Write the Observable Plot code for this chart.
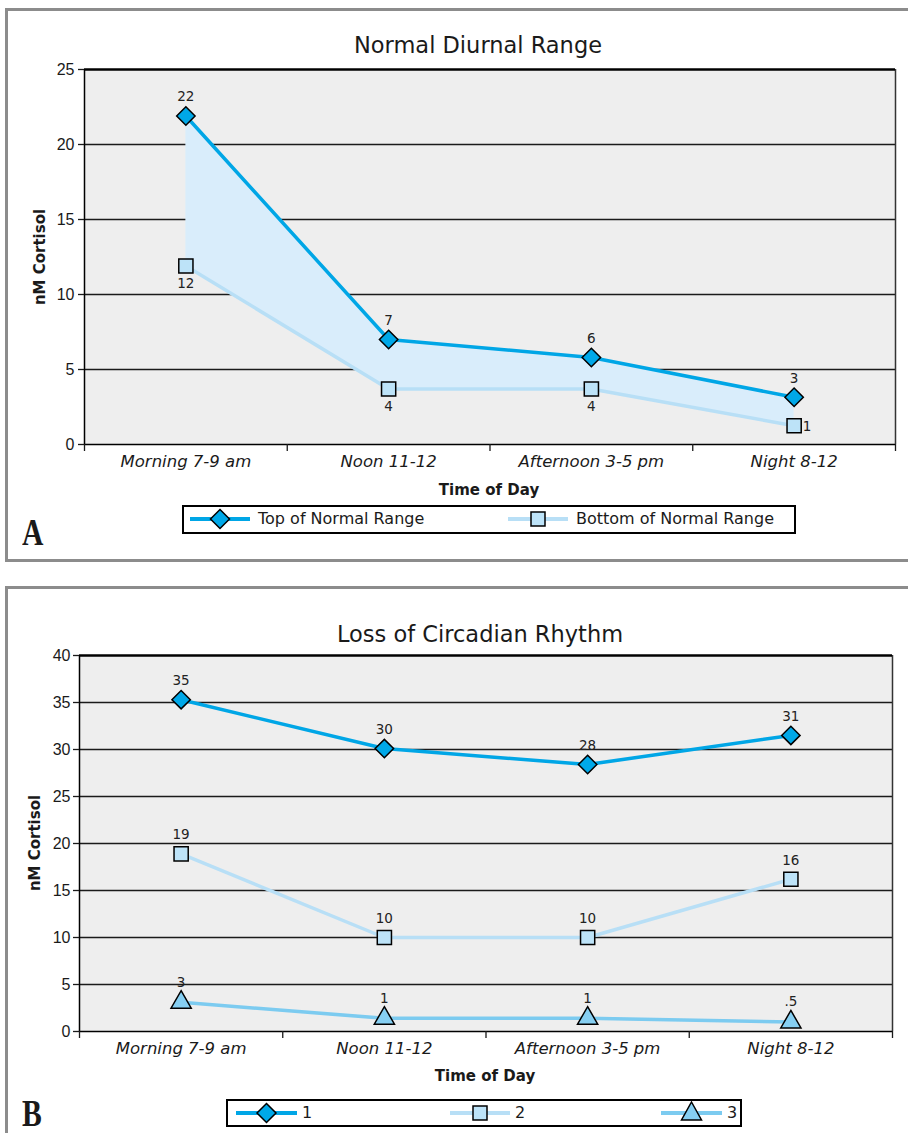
<!DOCTYPE html>
<html><head><meta charset="utf-8">
<script src="https://cdn.jsdelivr.net/npm/d3@7"></script>
<script src="https://cdn.jsdelivr.net/npm/@observablehq/plot@0.6"></script>
<style>
html,body{margin:0;padding:0;background:#fff;}
#page{position:relative;width:908px;height:1133px;overflow:hidden;font-family:"DejaVu Sans",sans-serif;color:#1a1a1a;}
.panel{position:absolute;left:5px;width:930px;border:3px solid #8c8c8c;box-sizing:border-box;background:#fff;}
.abs{position:absolute;white-space:nowrap;line-height:1;}
.plotwrap{position:absolute;left:0;}
.legend{position:absolute;border:2px solid #000;box-sizing:border-box;background:#fff;}
</style></head><body><div id="page"></div>
<script>
// ---------- data ----------
const categories = ["Morning 7-9 am", "Noon 11-12", "Afternoon 3-5 pm", "Night 8-12"];

// Panel A: Normal Diurnal Range
const topRange = [21.9, 7.0, 5.8, 3.15];
const bottomRange = [11.9, 3.7, 3.7, 1.25];
const topLabels = ["22", "7", "6", "3"];
const bottomLabels = ["12", "4", "4", "1"];
const yTicksA = [0, 5, 10, 15, 20, 25];

// Panel B: Loss of Circadian Rhythm
const series1 = [35.3, 30.1, 28.4, 31.5];
const series2 = [18.9, 10.0, 10.0, 16.2];
const series3 = [3.1, 1.4, 1.4, 1.0];
const labels1 = ["35", "30", "28", "31"];
const labels2 = ["19", "10", "10", "16"];
const labels3 = ["3", "1", "1", ".5"];
const yTicksB = [0, 5, 10, 15, 20, 25, 30, 35, 40];

// ---------- colours ----------
const C1 = "#00a6e6", C1fill = "#00a8e8";
const C2 = "#b8dff6", C2fill = "#bde3f8";
const C3 = "#7ccbf0", C3fill = "#86cff2";
const AREA = "#d9edfb";

const page = document.getElementById("page");
function el(tag, cls, css, text) {
  const e = document.createElement(tag);
  if (cls) e.className = cls;
  Object.assign(e.style, css || {});
  if (text != null) e.textContent = text;
  page.appendChild(e);
  return e;
}
function txt(str, x, baseline, size, opts = {}) {
  const e = el("div", "abs", {
    left: x + "px", top: (baseline - 0.846 * size) + "px", fontSize: size + "px",
    fontWeight: opts.weight || "normal", fontStyle: opts.style || "normal",
    fontFamily: opts.family || '"DejaVu Sans", sans-serif',
    letterSpacing: opts.ls || "normal",
    transform: opts.anchor === "middle" ? "translateX(-50%)" : (opts.transform || "none"),
    transformOrigin: "0 0"
  }, str);
  return e;
}
function rotText(str, cx, cy, size) {
  el("div", "abs", {
    left: cx + "px", top: cy + "px", fontSize: size + "px", fontWeight: "bold",
    transform: "translate(-50%,-50%) rotate(-90deg)"
  }, str);
}

// panels
el("div", "panel", {top: "8px", height: "554px"});
el("div", "panel", {top: "586px", height: "600px"});

const xIndex = categories.map((_, i) => i + 0.5);
const bounds = [0, 1, 2, 3, 4];

function makePlot(cfg) {
  const plot = Plot.plot({
    width: 908, height: cfg.height,
    marginTop: cfg.mt, marginBottom: cfg.mb, marginLeft: cfg.ml, marginRight: cfg.mr,
    x: {domain: [0, 4], label: null},
    y: {domain: cfg.yDomain, label: null},
    style: {background: "transparent", fontFamily: '"DejaVu Sans", sans-serif', color: "#1a1a1a", overflow: "visible"},
    marks: [
      Plot.frame({fill: "#eeeeee", stroke: "none"}),
      Plot.ruleY(cfg.yTicks.slice(1, -1), {stroke: "#1a1a1a", strokeWidth: 1.3}),
      ...cfg.marks,
      Plot.ruleX([4], {stroke: "#333", strokeWidth: 1.5}),
      Plot.ruleY([cfg.yDomain[1]], {stroke: "#000", strokeWidth: 2.6}),
      Plot.ruleY([0], {stroke: "#000", strokeWidth: 1.5}),
      Plot.ruleX([0], {stroke: "#000", strokeWidth: 1.5}),
      Plot.axisY({ticks: cfg.yTicks, tickSize: 6, tickPadding: cfg.tp, label: null, fontSize: 16,
        fontFamily: '"Liberation Sans", Arial, sans-serif', strokeWidth: 1.3}),
      Plot.axisX({ticks: bounds, tickSize: 7, tickFormat: () => "", label: null, strokeWidth: 1.3}),
      Plot.axisX({ticks: xIndex, tickSize: 0, tickPadding: 11, label: null, fontSize: 16.5, fontStyle: "italic",
        tickFormat: d => categories[xIndex.indexOf(d)]})
    ]
  });
  const wrap = el("div", "plotwrap", {top: cfg.top + "px"});
  wrap.appendChild(plot);
}

// ---------- Panel A ----------
const rowsA = categories.map((c, i) => ({x: xIndex[i], top: topRange[i], bottom: bottomRange[i], tl: topLabels[i], bl: bottomLabels[i]}));
const dotStroke = {stroke: "#000", strokeWidth: 1.5};
makePlot({
  top: 0, height: 500, mt: 69, mb: 56, ml: 84, mr: 13, yDomain: [0, 25], yTicks: yTicksA, tp: 4,
  marks: [
    Plot.areaY(rowsA, {x: "x", y1: "bottom", y2: "top", fill: AREA}),
    Plot.lineY(rowsA, {x: "x", y: "bottom", stroke: C2, strokeWidth: 3.5}),
    Plot.lineY(rowsA, {x: "x", y: "top", stroke: C1, strokeWidth: 3.5}),
    Plot.dot(rowsA, {x: "x", y: "bottom", symbol: "square", r: 8, fill: C2fill, ...dotStroke}),
    Plot.dot(rowsA, {x: "x", y: "top", symbol: "diamond2", r: 8.3, fill: C1fill, ...dotStroke}),
    Plot.text(rowsA, {x: "x", y: "top", text: "tl", dy: -19, fontSize: 13.5, fill: "#222"}),
    Plot.text(rowsA.slice(0, 3), {x: "x", y: "bottom", text: "bl", dy: 18, fontSize: 13.5, fill: "#222"}),
    Plot.text(rowsA.slice(3), {x: "x", y: "bottom", text: "bl", dx: 13, dy: 1, fontSize: 13.5, fill: "#222"})
  ]
});

// ---------- Panel B ----------
const rowsB = categories.map((c, i) => ({x: xIndex[i], s1: series1[i], s2: series2[i], s3: series3[i], l1: labels1[i], l2: labels2[i], l3: labels3[i]}));
makePlot({
  top: 586, height: 500, mt: 69, mb: 55, ml: 79, mr: 16, yDomain: [0, 40], yTicks: yTicksB, tp: 3,
  marks: [
    Plot.lineY(rowsB, {x: "x", y: "s3", stroke: C3, strokeWidth: 3.5}),
    Plot.lineY(rowsB, {x: "x", y: "s2", stroke: C2, strokeWidth: 3.5}),
    Plot.lineY(rowsB, {x: "x", y: "s1", stroke: C1, strokeWidth: 3.5}),
    Plot.dot(rowsB, {x: "x", y: "s3", symbol: "triangle", r: 7.5, fill: C3fill, ...dotStroke}),
    Plot.dot(rowsB, {x: "x", y: "s2", symbol: "square", r: 8, fill: C2fill, ...dotStroke}),
    Plot.dot(rowsB, {x: "x", y: "s1", symbol: "diamond2", r: 8.3, fill: C1fill, ...dotStroke}),
    Plot.text(rowsB, {x: "x", y: "s1", text: "l1", dy: -19, fontSize: 13.5, fill: "#222"}),
    Plot.text(rowsB, {x: "x", y: "s2", text: "l2", dy: -19, fontSize: 13.5, fill: "#222"}),
    Plot.text(rowsB, {x: "x", y: "s3", text: "l3", dy: -20, fontSize: 13.5, fill: "#222"})
  ]
});

// ---------- titles & axis titles ----------
txt("Normal Diurnal Range", 478, 53, 22.5, {anchor: "middle"});
txt("Loss of Circadian Rhythm", 480, 642, 22.5, {anchor: "middle"});
txt("Time of Day", 489, 496, 15, {anchor: "middle", weight: "bold"});
txt("Time of Day", 485, 1082, 15, {anchor: "middle", weight: "bold"});
rotText("nM Cortisol", 40, 257, 15);
rotText("nM Cortisol", 35, 843, 15);
txt("A", 22, 545, 38, {weight: "bold", family: '"Liberation Serif", serif', transform: "scaleX(0.78)"});
txt("B", 22, 1126, 38, {weight: "bold", family: '"Liberation Serif", serif', transform: "scaleX(0.78)"});

// ---------- legends ----------
const NS = "http://www.w3.org/2000/svg";
function swatch(x, cy, color, width, markerFn) {
  const s = document.createElementNS(NS, "svg");
  s.setAttribute("width", 64); s.setAttribute("height", 26);
  Object.assign(s.style, {position: "absolute", left: (x - 2) + "px", top: (cy - 13) + "px", overflow: "visible"});
  const l = document.createElementNS(NS, "line");
  l.setAttribute("x1", 2); l.setAttribute("x2", 2 + width); l.setAttribute("y1", 13); l.setAttribute("y2", 13);
  l.setAttribute("stroke", color); l.setAttribute("stroke-width", 4);
  s.appendChild(l);
  const p = document.createElementNS(NS, "path");
  p.setAttribute("d", markerFn(2 + width / 2, 13));
  p.setAttribute("stroke", "#000"); p.setAttribute("stroke-width", 1.5);
  s.appendChild(p);
  page.appendChild(s);
  return p;
}
const diamondPath = (cx, cy) => `M${cx},${cy - 9.5}L${cx + 9.5},${cy}L${cx},${cy + 9.5}L${cx - 9.5},${cy}Z`;
const squarePath = (cx, cy) => `M${cx - 7},${cy - 7}h14v14h-14Z`;
const trianglePath = (cx, cy) => `M${cx},${cy - 11}L${cx + 10},${cy + 7}L${cx - 10},${cy + 7}Z`;

const legendA = ["Top of Normal Range", "Bottom of Normal Range"];
el("div", "legend", {left: "182px", top: "505px", width: "614px", height: "29px"});
swatch(190, 519, C1, 60, diamondPath).setAttribute("fill", C1fill);
txt(legendA[0], 258, 525, 16);
swatch(508, 519, C2, 60, squarePath).setAttribute("fill", C2fill);
txt(legendA[1], 576, 525, 16);

const legendB = ["1", "2", "3"];
el("div", "legend", {left: "226px", top: "1099px", width: "516px", height: "28px"});
swatch(236, 1113, C1, 61, diamondPath).setAttribute("fill", C1fill);
txt(legendB[0], 302, 1119, 16);
swatch(450, 1113, C2, 60, squarePath).setAttribute("fill", C2fill);
txt(legendB[1], 515, 1119, 16);
swatch(661, 1113, C3, 61, trianglePath).setAttribute("fill", C3fill);
txt(legendB[2], 727, 1119, 16);
</script></body></html>
